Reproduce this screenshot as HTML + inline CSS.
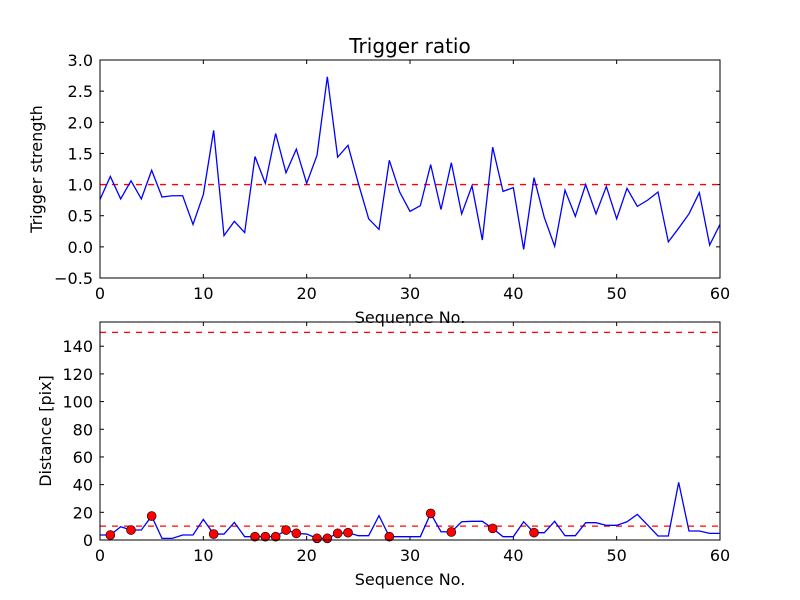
<!DOCTYPE html>
<html><head><meta charset="utf-8"><style>
body{margin:0;background:#fff}
svg{display:block;font-family:"DejaVu Sans","Liberation Sans",sans-serif}
</style></head><body>
<svg id="c" width="800" height="600" xmlns="http://www.w3.org/2000/svg">
<rect width="800" height="600" fill="#fff"/>
</svg>
<script>
const strength=[0.76,1.13,0.77,1.06,0.77,1.23,0.80,0.82,0.82,0.36,0.84,1.87,0.18,0.41,0.23,1.45,1.02,1.82,1.19,1.57,1.02,1.47,2.73,1.44,1.63,1.02,0.45,0.28,1.39,0.88,0.57,0.66,1.32,0.60,1.35,0.53,0.98,0.11,1.60,0.89,0.95,-0.04,1.11,0.47,0.01,0.91,0.49,1.0,0.53,0.97,0.45,0.94,0.65,0.75,0.88,0.08,0.30,0.53,0.87,0.03,0.36];
const distance=[3.6,3.6,9.6,7.2,7.2,17.3,1.2,1.2,3.6,3.6,14.9,4.3,4.3,12.7,2.4,2.4,2.4,2.4,7.2,4.8,4.3,1.2,1.2,4.8,5.3,3.1,3.1,17.6,2.4,2.4,2.4,2.4,19.2,6.0,5.8,13.2,13.5,13.5,8.4,2.4,2.4,13.2,5.3,5.3,13.5,3.1,3.1,12.5,12.5,10.6,10.6,13.2,18.5,10.8,2.9,2.9,41.6,6.5,6.5,4.8,4.8];
const markerIdx=[1,3,5,11,15,16,17,18,19,21,22,23,24,28,32,34,38,42];
const xTicks=[0,10,20,30,40,50,60];
const yTicksTop=[-0.5,0.0,0.5,1.0,1.5,2.0,2.5,3.0];
const yTicksBot=[0,20,40,60,80,100,120,140];
const thrTop=1.0, thrBot=[10,150];

const svg=document.getElementById('c');const NS='http://www.w3.org/2000/svg';
function mk(t,a,p){const e=document.createElementNS(NS,t);for(const k in a)e.setAttribute(k,a[k]);(p||svg).appendChild(e);return e;}
function axes(L,T,R,B,x0,x1,y0,y1,yt,fmt,ylab,name,yoff){
  const g=mk('g',{});
  
  
  const sx=v=>L+(v-x0)/(x1-x0)*(R-L), sy=v=>B-(v-y0)/(y1-y0)*(B-T);
  xTicks.forEach(v=>{const x=sx(v);
    mk('line',{x1:x,x2:x,y1:B,y2:B-4,stroke:'#000'},g);mk('line',{x1:x,x2:x,y1:T,y2:T+4,stroke:'#000'},g);
    const t=mk('text',{x:x,y:B+21,'text-anchor':'middle','font-size':16},g);t.textContent=v;
    });
  yt.forEach(v=>{const y=sy(v);
    mk('line',{x1:L,x2:L+4,y1:y,y2:y,stroke:'#000'},g);mk('line',{x1:R,x2:R-4,y1:y,y2:y,stroke:'#000'},g);
    const t=mk('text',{x:L-7,y:y+6,'text-anchor':'end','font-size':16},g);t.textContent=fmt(v).replace('-','\u2212');
    });
  const yl=mk('text',{x:0,y:0,'text-anchor':'middle','font-size':16,transform:`translate(${L-yoff},${(T+B)/2}) rotate(-90)`},g);yl.textContent=ylab;
  
  const xl=mk('text',{x:(L+R)/2,y:B+45,'text-anchor':'middle','font-size':16},g);xl.textContent='Sequence No.';
  
  return {g,sx,sy,L,T,R,B};
}
const a=axes(100,60,720,278,0,60,-0.5,3.0,yTicksTop,v=>v.toFixed(1),'Trigger strength','top-axes',58);
const th=mk('line',{x1:a.L,x2:a.R,y1:a.sy(thrTop),y2:a.sy(thrTop),stroke:'#f00','stroke-dasharray':'6,6','stroke-width':1.3},a.g);

const l1=mk('polyline',{points:strength.map((v,i)=>a.sx(i)+','+a.sy(v)).join(' '),fill:'none',stroke:'#00f','stroke-width':1.3},a.g);

mk('rect',{x:a.L,y:a.T,width:a.R-a.L,height:a.B-a.T,fill:'none',stroke:'#000'},a.g);
const ti=mk('text',{x:410,y:53,'text-anchor':'middle','font-size':20},a.g);ti.textContent='Trigger ratio';

const b=axes(100,322,720,540,0,60,0,157.5,yTicksBot,v=>String(v),'Distance [pix]','bottom-axes',49);
thrBot.forEach(v=>{const e=mk('line',{x1:b.L,x2:b.R,y1:b.sy(v),y2:b.sy(v),stroke:'#f00','stroke-dasharray':'6,6','stroke-width':1.3},b.g);
  });
const l2=mk('polyline',{points:distance.map((v,i)=>b.sx(i)+','+b.sy(v)).join(' '),fill:'none',stroke:'#00f','stroke-width':1.3},b.g);

markerIdx.forEach(i=>{const c=mk('circle',{cx:b.sx(i),cy:b.sy(distance[i]),r:4.5,fill:'#f00',stroke:'#000','stroke-width':0.6},b.g);
  });
mk('rect',{x:b.L,y:b.T,width:b.R-b.L,height:b.B-b.T,fill:'none',stroke:'#000'},b.g);
</script>
</body></html>
